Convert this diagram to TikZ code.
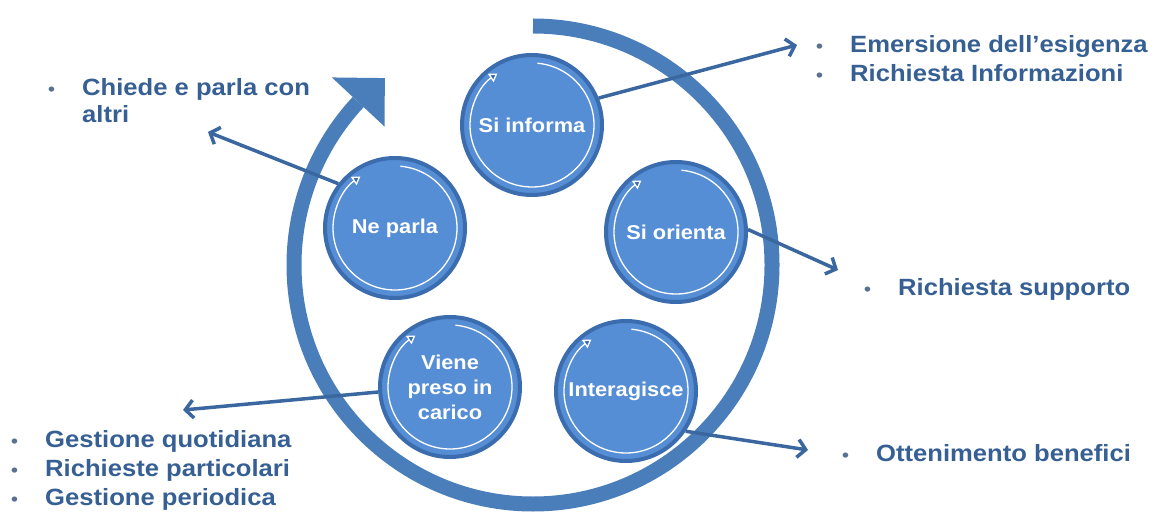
\documentclass[tikz,border=0pt]{standalone}
\usepackage{fontspec}
\setmainfont{Liberation Sans}[FakeStretch=1.09]
\usetikzlibrary{arrows.meta,calc}
\definecolor{ringblue}{HTML}{4A7EBB}
\definecolor{circfill}{HTML}{558ED5}
\definecolor{circedge}{HTML}{3B6CAE}
\definecolor{txtblue}{HTML}{365F93}
\definecolor{connblue}{HTML}{3A679F}
\definecolor{bulletgray}{HTML}{5A7090}
\newcommand\mybul{\makebox[34pt][l]{\fontsize{18}{18}\selectfont\textcolor{bulletgray}{\textbullet}}}
\begin{document}
\begin{tikzpicture}[x=1pt,y=1pt,
  stage/.style={circle, minimum size=140pt, inner sep=0pt, fill=circfill,
    draw=circedge, line width=4pt, text=white,
    font=\fontsize{20}{25}\selectfont\bfseries, align=center,
    path picture={\draw[white, line width=1.3pt,
      -{Triangle[length=8pt,width=10pt,fill=circedge]}]
      ($(path picture bounding box.center)+(445:62pt)$)
      arc[start angle=445, end angle=124, radius=62pt];}},
  conn/.style={draw=connblue, line width=3.5pt,
    -{Straight Barb[length=8pt,width=18pt]}},
  lst/.style={anchor=base west, inner sep=0pt, text=txtblue,
    font=\fontsize{23.5}{29}\selectfont\bfseries}]
\useasboundingbox (0,0) rectangle (1153,517);
% big circular arrow
\coordinate (C) at (533,252);
\draw[ringblue, line width=15pt] ($(C)+(90:239pt)$)
  arc[start angle=90, end angle=-223, radius=239pt];
\fill[ringblue] ($(C)+(137:275pt)$) -- ($(C)+(128.4:238.5pt)$)
  -- ($(C)+(137:203pt)$) -- cycle;
% stages
\node[stage] (si) at (532,392) {Si informa};
\node[stage] (np) at (395,289) {Ne parla};
\node[stage] (so) at (676,285) {Si orienta};
\node[stage] (vp) at (450,130) {Viene\\preso in\\carico};
\node[stage] (it) at (626,126) {Interagisce};
% arrow ends
\coordinate (e1) at (797,472);
\coordinate (e2) at (208,385);
\coordinate (e3) at (838,247);
\coordinate (e4) at (183,107);
\coordinate (e5) at (808,67);
\draw[conn] (si.22) -- (e1);
\draw[conn] (np.142) -- (e2);
\draw[conn] (so.2) -- (e3);
\draw[conn] (vp.184) -- (e4);
\draw[conn] (it.-34) -- (e5);
% lists
\node[lst] (l1) at (816,464) {\begin{tabular}[t]{@{}l@{}l@{}}\mybul & Emersione dell’esigenza\\ \mybul & Richiesta Informazioni\end{tabular}};
\node[lst] (l2) at (48,421) {\begin{tabular}[t]{@{}l@{}l@{}}\mybul & Chiede e parla con\\[-2pt] & altri\end{tabular}};
\node[lst] (l3) at (864,221) {\mybul Richiesta supporto};
\node[lst] (l4) at (842,56) {\mybul Ottenimento benefici};
\node[lst] (l5) at (11,70) {\begin{tabular}[t]{@{}l@{}l@{}}\mybul & Gestione quotidiana\\ \mybul & Richieste particolari\\ \mybul & Gestione periodica\end{tabular}};
\end{tikzpicture}
\end{document}
